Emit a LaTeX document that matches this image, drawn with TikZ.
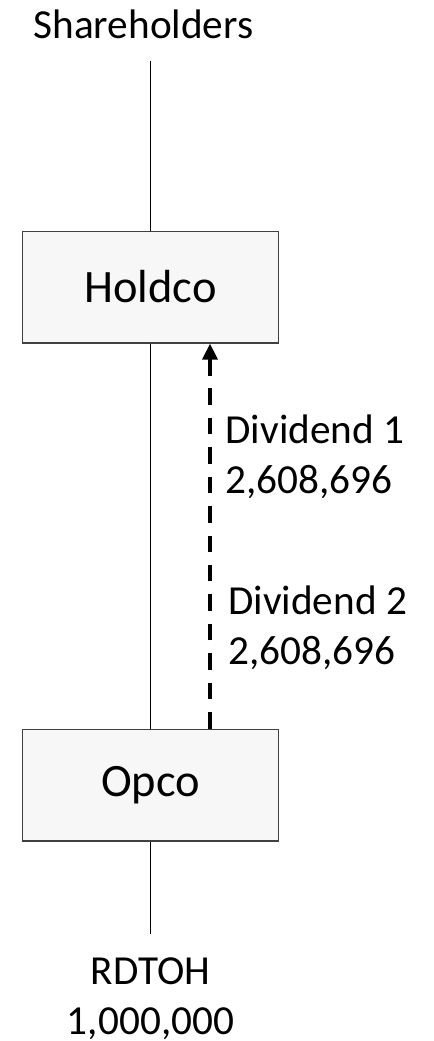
\documentclass[tikz,border=0pt]{standalone}
\usepackage{fontspec}
\setmainfont{Carlito}
\usetikzlibrary{arrows.meta}
\usetikzlibrary{calc}

\tikzset{
    entity/.style = {draw=black!75, line width=0.5pt, fill=black!3, inner sep=0pt,
                     minimum width=99.1pt, minimum height=43.3pt,
                     font=\fontsize{18}{22}\selectfont},
    plain/.style = {inner sep=0pt, align=left, font=\fontsize{16}{19.4}\selectfont},
    link/.style = {line width=0.45pt, black},
    flow/.style = {line width=1.6pt, dash pattern=on 6.4pt off 5pt,
                   -{Triangle[length=6.2pt,width=5.7pt]}}
}

\begin{document}
\begin{tikzpicture}[x={(0.3876pt,0)}, y={(0,-0.3876pt)}]
    \useasboundingbox (0,0) rectangle (434,1041);

    % entities
    \node[entity] (holdco) at (150.5,287) {Holdco};
    \node[entity] (opco) at (150.5,785) {Opco};

    % texts
    \node[plain, anchor=north] (share) at (143.5,9.5) {Shareholders};
    \node[plain, anchor=north west] (div1) at (225,414) {Dividend 1\\2,608,696};
    \node[plain, anchor=north west] (div2) at (227.7,585) {Dividend 2\\2,608,696};
    \node[plain, align=center, anchor=north] (rdtoh) at (150.5,957) {RDTOH\\1,000,000};

    % ownership lines
    \coordinate (sharefoot) at (150.5,61);
    \coordinate (rdtohtop) at (150.5,934);
    \draw[link] (sharefoot) -- (holdco.north);
    \draw[link] (holdco.south) -- (opco.north);
    \draw[link] (opco.south) -- (rdtohtop);

    % dividends paid up
    \draw[flow] ($(opco.north)+(59.5,0)$) -- ($(holdco.south)+(59.5,0)$);
\end{tikzpicture}
\end{document}
